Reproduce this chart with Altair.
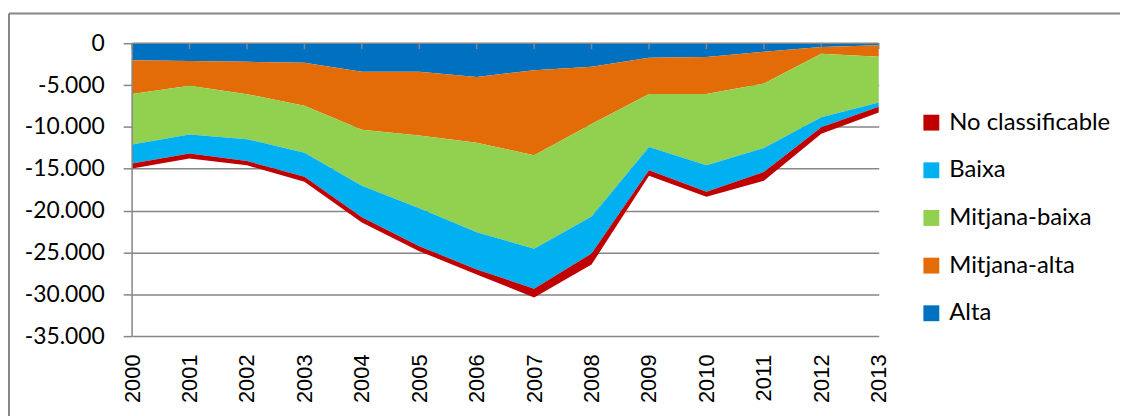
import altair as alt
import pandas as pd

years = list(range(2000, 2014))
alta = [-2050, -2130, -2220, -2340, -3400, -3400, -4030, -3240, -2810, -1740, -1660, -1030, -440, -240]
mitjana_alta = [-4030, -2960, -3870, -5130, -6950, -7620, -7860, -10160, -6830, -4340, -4420, -3790, -830, -1390]
mitjana_baixa = [-6010, -5810, -5380, -5610, -6690, -8690, -10710, -11150, -11070, -6330, -8500, -7710, -7590, -5460]
baixa = [-2290, -2290, -2610, -2890, -3750, -4550, -4440, -4780, -4420, -2760, -3170, -2850, -1190, -510]
no_classificable = [-590, -590, -510, -590, -640, -590, -590, -1070, -1300, -680, -590, -1070, -780, -680]

series_names = ["No classificable", "Baixa", "Mitjana-baixa", "Mitjana-alta", "Alta"]
series_colors = ["#C00000", "#00B0F0", "#92D050", "#E36C09", "#0070C0"]
y_ticks = [0, -5000, -10000, -15000, -20000, -25000, -30000, -35000]

series_values = {
    "Alta": alta,
    "Mitjana-alta": mitjana_alta,
    "Mitjana-baixa": mitjana_baixa,
    "Baixa": baixa,
    "No classificable": no_classificable,
}
stack_order = {"Alta": 0, "Mitjana-alta": 1, "Mitjana-baixa": 2, "Baixa": 3, "No classificable": 4}

rows = []
for name, vals in series_values.items():
    for yr, v in zip(years, vals):
        rows.append({"Any": yr, "Serie": name, "Valor": v, "ordre": stack_order[name]})
df = pd.DataFrame(rows)
one = pd.DataFrame({"k": [0]})
years_df = pd.DataFrame({"Any": years})

GRAY = "#868686"
x_scale = alt.Scale(domain=[2000, 2013], nice=False, zero=False)
y_scale = alt.Scale(domain=[-35000, 0], nice=False)

area = alt.Chart(df).mark_area(opacity=1).encode(
    x=alt.X(
        "Any:Q",
        scale=x_scale,
        axis=alt.Axis(
            values=years, format="d", labelAngle=270, ticks=False, tickSize=0,
            domain=False, grid=False, labelPadding=18, labelFontSize=22,
            labelFont="Liberation Sans", labelColor="black", title=None,
            labelOverlap=False, labelFlush=False,
        ),
    ),
    y=alt.Y(
        "Valor:Q",
        stack="zero",
        scale=y_scale,
        axis=alt.Axis(
            values=y_ticks,
            labelExpr="datum.value == 0 ? '0' : '-' + replace(format(abs(datum.value), ','), ',', '.')",
            grid=True, gridColor=GRAY, gridWidth=1.5,
            ticks=True, tickColor=GRAY, tickSize=9, tickWidth=1.5,
            domain=False, labelPadding=19, labelFontSize=23, labelFont="Lato",
            labelColor="black", title=None, labelOverlap=False, labelFlush=False,
        ),
    ),
    color=alt.Color(
        "Serie:N",
        scale=alt.Scale(domain=series_names, range=series_colors),
        legend=alt.Legend(
            orient="none", legendX=793, legendY=68, title=None,
            symbolType="square", symbolSize=256, symbolStrokeWidth=0,
            symbolOpacity=1, labelFont="Lato", labelFontSize=24,
            labelColor="black", rowPadding=24, labelOffset=6, padding=0,
            labelLimit=400,
        ),
    ),
    order=alt.Order("ordre:Q", sort="ascending"),
)

top_line = alt.Chart(one).mark_rule(color=GRAY, strokeWidth=1.5).encode(
    x=alt.datum(2000), x2=alt.datum(2013), y=alt.datum(0)
)
left_line = alt.Chart(one).mark_rule(color=GRAY, strokeWidth=1.5).encode(
    x=alt.datum(2000), y=alt.datum(0), y2=alt.datum(-35000)
)
year_ticks = alt.Chart(years_df).mark_rule(color=GRAY, strokeWidth=1.5).encode(
    x="Any:Q", y=alt.datum(0), y2=alt.value(6)
)
frame_top = alt.Chart(one).mark_rule(color=GRAY, strokeWidth=2).encode(
    x=alt.value(-124), x2=alt.value(1000), y=alt.value(-30)
)
frame_left = alt.Chart(one).mark_rule(color=GRAY, strokeWidth=2).encode(
    x=alt.value(-124), y=alt.value(-30), y2=alt.value(380)
)

chart = alt.layer(area, top_line, left_line, year_ticks, frame_top, frame_left).properties(
    width=752,
    height=295,
    padding={"left": 125, "top": 34, "right": 243, "bottom": 79},
    autosize=alt.AutoSizeParams(type="none"),
    background="white",
).configure_view(stroke=None)

chart.save("out.html", embed_options={"renderer": "svg", "actions": False})
